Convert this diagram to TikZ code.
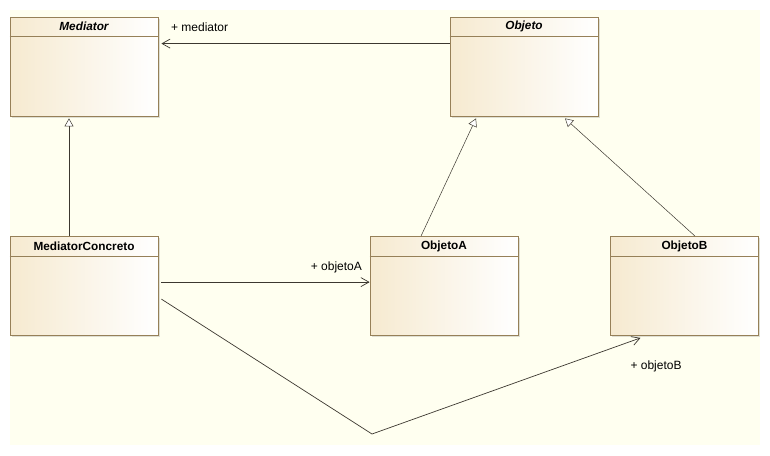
\documentclass[tikz,border=0pt]{standalone}
\usepackage{fontspec}
\setmainfont{Liberation Sans}
\usetikzlibrary{arrows.meta, shadows}

\definecolor{canvas}{RGB}{255,255,240}
\definecolor{boxfill}{RGB}{246,234,208}
\definecolor{boxline}{RGB}{150,128,88}
\definecolor{wire}{RGB}{60,56,48}

\tikzset{
    classbox/.style={draw=boxline, line width=0.8pt, left color=boxfill, right color=white,
        minimum width=148pt, minimum height=99pt, inner sep=0pt,
        drop shadow={shadow xshift=1.5pt, shadow yshift=-1.5pt, opacity=0.25}},
    classname/.style={font=\fontsize{11.8}{14}\selectfont\bfseries, anchor=center},
    rolename/.style={font=\fontsize{12}{14}\selectfont},
    assoc/.style={draw=wire, line width=0.7pt, -{Straight Barb[length=8pt, width=9pt]}},
    inherit/.style={draw=wire, line width=0.5pt, -{Triangle[open, length=8pt, width=9pt, fill=white]}}
}

\begin{document}
\begin{tikzpicture}[x=1pt, y=-1pt]
    \useasboundingbox (0,0) rectangle (770,455);
    \fill[canvas] (10,10) rectangle (760,445);

    % classes
    \node[classbox] (med) at (84,66.5) {};
    \node[classbox] (obj) at (524,66.5) {};
    \node[classbox] (medc) at (84,286) {};
    \node[classbox] (obja) at (444,286) {};
    \node[classbox] (objb) at (684.5,286) {};
    \foreach \c in {med, obj, medc, obja, objb}
        \draw[boxline, line width=0.8pt] ([yshift=-20pt]\c.north west) -- ([yshift=-20pt]\c.north east);
    \node[classname] at ([yshift=-10pt]med.north) {\itshape Mediator};
    \node[classname] at ([yshift=-10pt]obj.north) {\itshape Objeto};
    \node[classname] at ([yshift=-10pt]medc.north) {MediatorConcreto};
    \node[classname] at ([yshift=-10pt]obja.north) {ObjetoA};
    \node[classname] at ([yshift=-10pt]objb.north) {ObjetoB};

    % generalizations
    \draw[inherit] ([xshift=-15pt]medc.north) -- ([xshift=-15pt,yshift=-2pt]med.south);
    \draw[inherit] ([xshift=-23pt]obja.north) -- ([xshift=-48pt,yshift=-2pt]obj.south);
    \draw[inherit] ([xshift=10.5pt]objb.north) -- ([xshift=41pt,yshift=-2pt]obj.south);

    % associations
    \draw[assoc] ([yshift=-27pt]obj.north west) -- ([yshift=-27pt,xshift=3pt]med.north east)
        node[rolename, pos=1, anchor=west, xshift=6pt, yshift=16pt] {+ mediator};
    \draw[assoc] ([yshift=-46pt,xshift=3pt]medc.north east) -- ([yshift=-46pt]obja.north west)
        node[rolename, pos=1, anchor=east, xshift=-4pt, yshift=15pt] {+ objetoA};
    \coordinate (bend) at (372,434);
    \draw[assoc] ([yshift=-63pt,xshift=3pt]medc.north east) -- (bend) -- ([xshift=-44pt,yshift=-2pt]objb.south);
    \node[rolename, anchor=west] (lblb) at (627,366) {+ objetoB};
\end{tikzpicture}
\end{document}
